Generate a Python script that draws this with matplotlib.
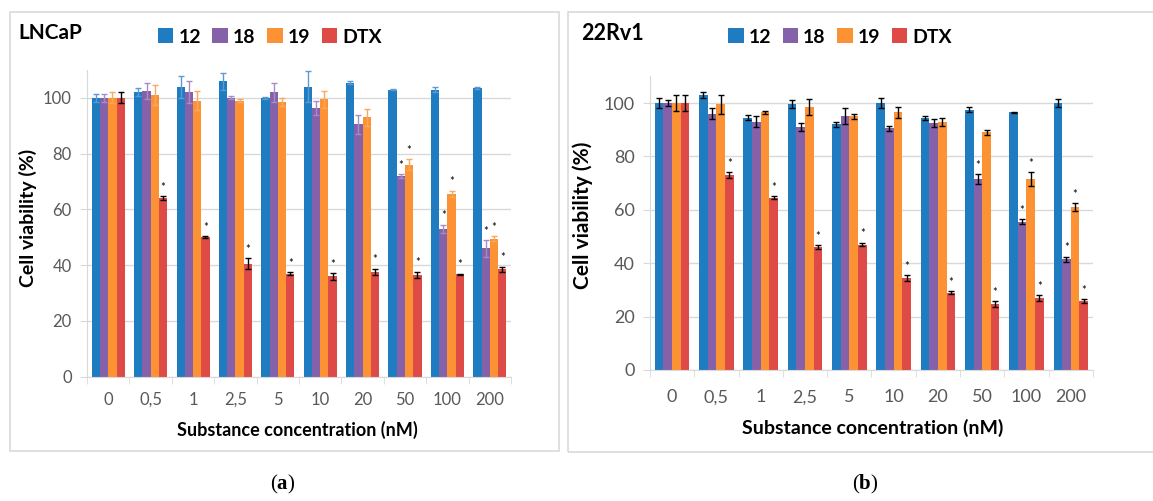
import numpy as np
import matplotlib.pyplot as plt
from matplotlib.patches import Rectangle

plt.rcParams['font.family'] = ['Lato', 'DejaVu Sans']
plt.rcParams['mathtext.fontset'] = 'custom'
plt.rcParams['mathtext.rm'] = 'Liberation Serif'
plt.rcParams['mathtext.bf'] = 'Liberation Serif:bold'

concentrations = ["0", "0,5", "1", "2,5", "5", "10", "20", "50", "100", "200"]
series = ["12", "18", "19", "DTX"]

# LNCaP
lncap_12 = [100, 102, 104, 106, 100, 104, 105.5, 103, 103, 103.5]
lncap_18 = [100, 102.5, 102, 100, 102, 96.5, 90.5, 72, 53, 46]
lncap_19 = [100, 101, 99, 99, 98.5, 99.5, 93, 76, 65.5, 49.5]
lncap_dtx = [100, 64, 50, 40.5, 37, 36, 37.5, 36.5, 36.7, 38.5]
lncap_err_12 = [1.5, 1.5, 4, 3, 0.3, 5.5, 0.5, 0.3, 1, 0.3]
lncap_err_18 = [1.5, 3, 4, 0.5, 3.5, 2.5, 3.5, 0.7, 1.5, 3]
lncap_err_19 = [2, 3.5, 3.5, 0.5, 1.5, 3, 3, 2, 1.2, 1]
lncap_err_dtx = [2, 0.7, 0.3, 2, 0.5, 1.2, 1.2, 1.2, 0.3, 1]
lncap_star = {"18": [7, 8, 9], "19": [7, 8, 9], "DTX": [1, 2, 3, 4, 5, 6, 7, 8, 9]}

# 22Rv1
rv1_12 = [100, 103, 94.5, 99.5, 92, 100, 94.5, 97.5, 96.5, 100]
rv1_18 = [100, 96, 93, 91, 95, 90.5, 92.5, 71.5, 55.5, 41.5]
rv1_19 = [100, 99.5, 96.5, 98.5, 95, 96.5, 93, 89, 71.5, 61]
rv1_dtx = [100, 73, 64.5, 46, 47, 34.5, 29, 24.7, 27, 25.8]
rv1_err_12 = [2, 1, 1, 1.5, 1, 2, 0.7, 1, 0.2, 1.5]
rv1_err_18 = [1, 2, 2, 1.5, 3, 1, 1.5, 2, 1, 1]
rv1_err_19 = [3, 3.5, 0.5, 3, 1, 2, 1.5, 1, 2.5, 1.5]
rv1_err_dtx = [3, 1, 0.5, 0.7, 0.7, 1, 0.5, 1, 1, 0.7]
rv1_star = {"18": [7, 8, 9], "19": [8, 9], "DTX": [1, 2, 3, 4, 5, 6, 7, 8, 9]}

colors = ["#1f7cc1", "#8561a9", "#fd9234", "#de4b47"]
grid_col = "#d9d9d9"
text_col = "#595959"


def draw_panel(ax, values, errors, stars, err_colors, tick_size, xpad):
    x = np.arange(len(concentrations))
    w = 0.195
    for i, name in enumerate(series):
        pos = x + (i - 1.5) * w
        ax.bar(pos, values[i], w, color=colors[i], label=name, zorder=2)
        ax.errorbar(pos, values[i], yerr=errors[i], fmt="none",
                    ecolor=err_colors[i], elinewidth=1, capsize=2.2,
                    capthick=1, zorder=3)
        for j in stars.get(name, []):
            ax.text(pos[j], values[i][j] + errors[i][j] + 1.2, "*",
                    ha="center", va="bottom", fontsize=8, color="black")
    ax.set_ylim(0, 110)
    ax.set_xlim(-0.5, len(concentrations) - 0.5)
    ax.set_yticks(range(0, 101, 20))
    ax.yaxis.grid(True, color=grid_col, lw=1)
    ax.set_axisbelow(True)
    ax.set_xticks(x)
    ax.set_xticklabels(concentrations)
    ax.set_xticks(np.arange(-0.5, len(concentrations)), minor=True)
    ax.tick_params(axis="x", which="major", length=0, pad=xpad,
                   labelsize=tick_size, labelcolor=text_col)
    ax.tick_params(axis="x", which="minor", length=5, color=grid_col)
    ax.tick_params(axis="y", length=5, color=grid_col, labelsize=tick_size,
                   labelcolor=text_col, pad=6)
    for s in ["top", "right"]:
        ax.spines[s].set_visible(False)
    for s in ["left", "bottom"]:
        ax.spines[s].set_color(grid_col)


fig = plt.figure(figsize=(11.53, 5.01), dpi=100)

# panel frames
fig.patches.append(Rectangle((0.0087, 0.0998), 0.476, 0.876, transform=fig.transFigure,
                             fill=False, edgecolor=grid_col, lw=1.2))
fig.patches.append(Rectangle((0.4926, 0.0978), 0.52, 0.878, transform=fig.transFigure,
                             fill=False, edgecolor=grid_col, lw=1.2))

ax1 = fig.add_axes([0.0755, 0.2481, 0.3677, 0.6122])
draw_panel(ax1, [lncap_12, lncap_18, lncap_19, lncap_dtx],
           [lncap_err_12, lncap_err_18, lncap_err_19, lncap_err_dtx],
           lncap_star, ["#5b9bd5", "#a58cc4", "#f9a85e", "black"], 12, 11)

ax2 = fig.add_axes([0.5637, 0.2615, 0.3842, 0.5862])
draw_panel(ax2, [rv1_12, rv1_18, rv1_19, rv1_dtx],
           [rv1_err_12, rv1_err_18, rv1_err_19, rv1_err_dtx],
           rv1_star, ["black"] * 4, 13, 14)

for ax, cx in [(ax1, 0.234), (ax2, 0.7286)]:
    ax.legend(loc="center", bbox_to_anchor=(cx, 0.926), bbox_transform=fig.transFigure,
              ncol=4, frameon=False, handlelength=0.8, handleheight=0.8,
              columnspacing=0.6, handletextpad=0.25,
              prop={"size": 14, "weight": "bold"})

fig.text(0.0156, 0.934, "LNCaP", fontsize=15, fontweight="bold", va="center")
fig.text(0.5036, 0.934, "22Rv1", fontsize=15.5, fontweight="bold", va="center")

fig.text(0.024, 0.565, "Cell viability (%)", rotation=90, fontsize=14,
         fontweight="bold", ha="center", va="center")
fig.text(0.5056, 0.571, "Cell viability (%)", rotation=90, fontsize=15,
         fontweight="bold", ha="center", va="center")
fig.text(0.2576, 0.1417, "Substance concentration (nM)", fontsize=13,
         fontweight="bold", ha="center", va="center")
fig.text(0.757, 0.1457, "Substance concentration (nM)", fontsize=14,
         fontweight="bold", ha="center", va="center")

fig.text(0.2455, 0.032, r"(${\bf a}$)", fontsize=15, family="Liberation Serif",
         ha="center", va="center")
fig.text(0.7502, 0.032, r"(${\bf b}$)", fontsize=15, family="Liberation Serif",
         ha="center", va="center")

fig.savefig("out.png", dpi=100)
